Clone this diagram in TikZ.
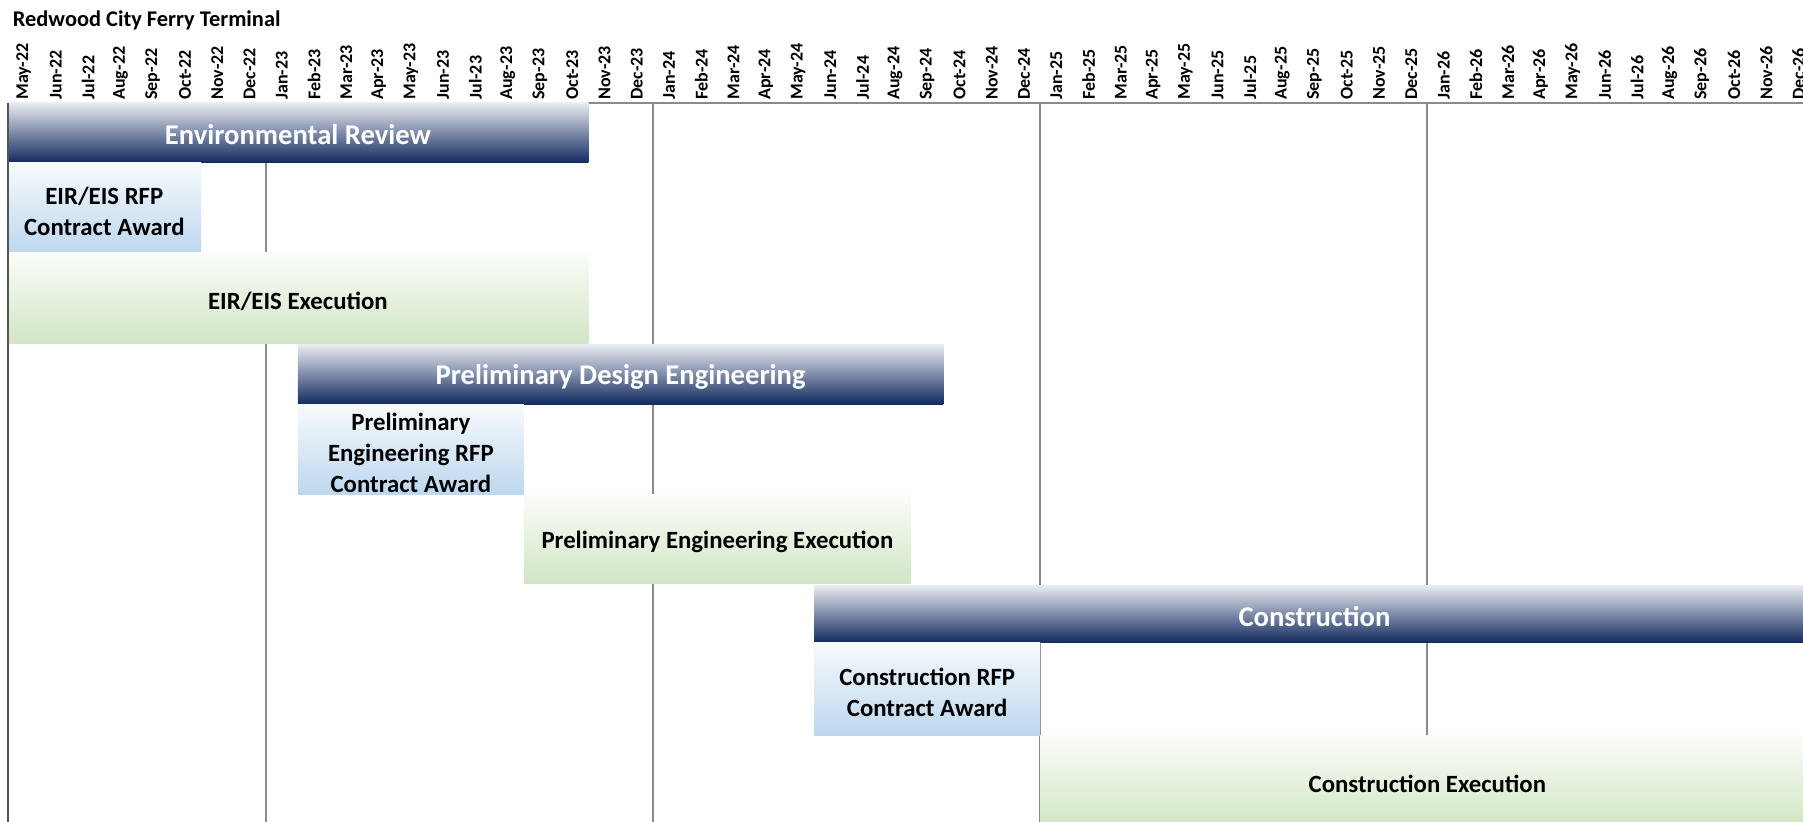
\documentclass[tikz,border=0pt]{standalone}
\usepackage{fontspec}
\setmainfont{Carlito}
\definecolor{navy}{HTML}{10295F}
\definecolor{navytop}{HTML}{E9EBF1}
\definecolor{bluebot}{HTML}{BDD7EE}
\definecolor{bluetop}{HTML}{F7FAFD}
\definecolor{greenbot}{HTML}{D1E5C4}
\definecolor{greentop}{HTML}{FBFDF9}
\definecolor{gridgray}{HTML}{8A8A8A}
\definecolor{bordergray}{HTML}{555555}
\newcommand{\ganttbar}[8]{%
  \path[#1] (#3,#4) rectangle (#5,#6);
  \node[#7] (#2) at ({(#3+#5)/2},{(#4+#6)/2}) {#8};}
\begin{document}
\begin{tikzpicture}[x=0.5pt,y=-0.5pt,
  navybar/.style={top color=navytop,bottom color=navy},
  bluebox/.style={top color=bluetop,bottom color=bluebot},
  greenbox/.style={top color=greentop,bottom color=greenbot},
  navytext/.style={text=white,font=\fontsize{14.3}{17}\selectfont\bfseries,inner sep=0pt,yshift=-1pt},
  darktext/.style={text=black,font=\fontsize{12.4}{15.5}\selectfont\bfseries,align=center,inner sep=0pt,yshift=-1.5pt},
  monthlabel/.style={font=\fontsize{9}{10}\selectfont\bfseries,rotate=90,anchor=west,inner sep=0pt},
  gridline/.style={draw=gridgray,line width=1pt}]
\clip (0,0) rectangle (1803,822);
\fill[white] (0,0) rectangle (1803,822);
% title
\node[font=\fontsize{11.2}{13}\selectfont\bfseries,anchor=base west,inner sep=0pt] (title) at (12.5,26.7) {Redwood City Ferry Terminal};
% month labels
\foreach \m [count=\i from 0] in {May-22,Jun-22,Jul-22,Aug-22,Sep-22,Oct-22,Nov-22,Dec-22,
  Jan-23,Feb-23,Mar-23,Apr-23,May-23,Jun-23,Jul-23,Aug-23,Sep-23,Oct-23,Nov-23,Dec-23,
  Jan-24,Feb-24,Mar-24,Apr-24,May-24,Jun-24,Jul-24,Aug-24,Sep-24,Oct-24,Nov-24,Dec-24,
  Jan-25,Feb-25,Mar-25,Apr-25,May-25,Jun-25,Jul-25,Aug-25,Sep-25,Oct-25,Nov-25,Dec-25,
  Jan-26,Feb-26,Mar-26,Apr-26,May-26,Jun-26,Jul-26,Aug-26,Sep-26,Oct-26,Nov-26,Dec-26}
  \node[monthlabel] (m\i) at ({7.5+32.27*(\i+0.5)},100) {\m};
% grid
\draw[gridline] (7.5,103) -- (1803,103);
\foreach \k in {0,1,2,3}
  \draw[gridline] ({265.66+387.24*\k},103) -- ({265.66+387.24*\k},822);
% bars
\ganttbar{navybar}{env}{7.5}{103}{588.36}{163}{navytext}{Environmental Review}
\ganttbar{bluebox}{eirrfp}{7.5}{163}{201.12}{253}{darktext}{EIR/EIS RFP\\Contract Award}
\ganttbar{greenbox}{eirexec}{7.5}{253}{588.36}{344}{darktext}{EIR/EIS Execution}
\ganttbar{navybar}{pde}{297.93}{345}{943.33}{404.5}{navytext}{Preliminary Design Engineering}
\ganttbar{bluebox}{perfp}{297.93}{404.5}{523.82}{494.5}{darktext}{Preliminary\\Engineering RFP\\Contract Award}
\ganttbar{greenbox}{peexec}{523.82}{494.5}{911.06}{584}{darktext}{Preliminary Engineering Execution}
\ganttbar{navybar}{con}{814.25}{585.5}{1814.62}{643}{navytext}{Construction}
\ganttbar{bluebox}{conrfp}{814.25}{643}{1040.14}{735}{darktext}{Construction RFP\\Contract Award}
\ganttbar{greenbox}{conexec}{1040.14}{735}{1814.62}{827}{darktext}{Construction Execution}
% left border
\draw[draw=bordergray,line width=1pt] (7.5,103) -- (7.5,822);
\end{tikzpicture}
\end{document}
